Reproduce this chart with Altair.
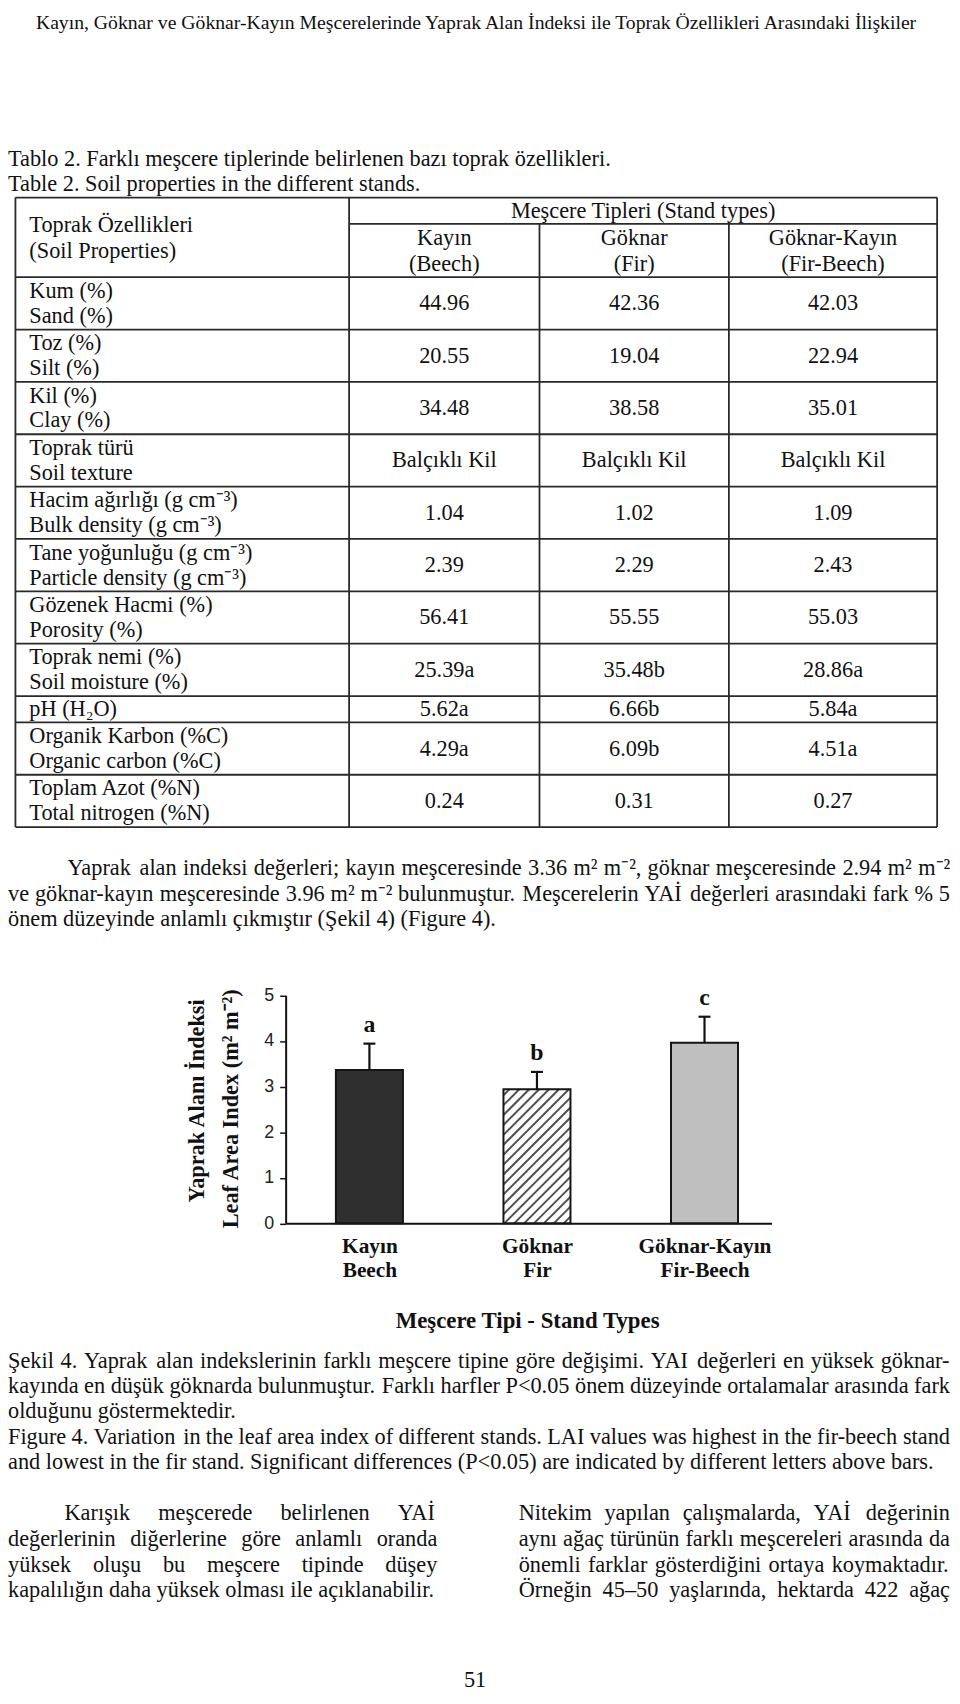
import json
import altair as alt
import pandas as pd

page_header = ("Kayın, Göknar ve Göknar-Kayın Meşcerelerinde Yaprak Alan İndeksi ile "
               "Toprak Özellikleri Arasındaki İlişkiler")

table_caption = [
    "Tablo 2. Farklı meşcere tiplerinde belirlenen bazı toprak özellikleri.",
    "Table 2. Soil properties in the different stands.",
]
table_group_title = "Meşcere Tipleri (Stand types)"
table_prop_title = ["Toprak Özellikleri", "(Soil Properties)"]

stand_tr = ["Kayın", "Göknar", "Göknar-Kayın"]
stand_en = ["Beech", "Fir", "Fir-Beech"]

prop_tr = ["Kum (%)", "Toz (%)", "Kil (%)", "Toprak türü",
           "Hacim ağırlığı (g cm⁻³)", "Tane yoğunluğu (g cm⁻³)", "Gözenek Hacmi (%)",
           "Toprak nemi (%)", "pH (H₂O)", "Organik Karbon (%C)", "Toplam Azot (%N)"]
prop_en = ["Sand (%)", "Silt (%)", "Clay (%)", "Soil texture",
           "Bulk density (g cm⁻³)", "Particle density (g cm⁻³)", "Porosity (%)",
           "Soil moisture (%)", "", "Organic carbon (%C)", "Total nitrogen (%N)"]
val_beech = ["44.96", "20.55", "34.48", "Balçıklı Kil", "1.04", "2.39", "56.41",
             "25.39a", "5.62a", "4.29a", "0.24"]
val_fir = ["42.36", "19.04", "38.58", "Balçıklı Kil", "1.02", "2.29", "55.55",
           "35.48b", "6.66b", "6.09b", "0.31"]
val_firbeech = ["42.03", "22.94", "35.01", "Balçıklı Kil", "1.09", "2.43", "55.03",
                "28.86a", "5.84a", "4.51a", "0.27"]

lai_mean = [3.36, 2.94, 3.96]
lai_err = [0.58, 0.38, 0.57]
lai_letter = ["a", "b", "c"]
lai_ticks = [0, 1, 2, 3, 4, 5]
y_title = ["Yaprak Alanı İndeksi", "Leaf Area Index (m² m⁻²)"]
x_title = "Meşcere Tipi - Stand Types"

para_lai = [
    "Yaprak alan indeksi değerleri; kayın meşceresinde 3.36 m² m⁻², göknar meşceresinde 2.94 m² m⁻²",
    "ve göknar-kayın meşceresinde 3.96 m² m⁻² bulunmuştur. Meşcerelerin YAİ değerleri arasındaki fark % 5",
    "önem düzeyinde anlamlı çıkmıştır (Şekil 4) (Figure 4).",
]
caption_fig = [
    "Şekil 4. Yaprak alan indekslerinin farklı meşcere tipine göre değişimi. YAI değerleri en yüksek göknar-",
    "kayında en düşük göknarda bulunmuştur. Farklı harfler P<0.05 önem düzeyinde ortalamalar arasında fark",
    "olduğunu göstermektedir.",
    "Figure 4. Variation in the leaf area index of different stands. LAI values was highest in the fir-beech stand",
    "and lowest in the fir stand. Significant differences (P<0.05) are indicated by different letters above bars.",
]
column_left = [
    "Karışık meşcerede belirlenen YAİ",
    "değerlerinin diğerlerine göre anlamlı oranda",
    "yüksek oluşu bu meşcere tipinde düşey",
    "kapalılığın daha yüksek olması ile açıklanabilir.",
]
column_right = [
    "Nitekim yapılan çalışmalarda, YAİ değerinin",
    "aynı ağaç türünün farklı meşcereleri arasında da",
    "önemli farklar gösterdiğini ortaya koymaktadır.",
    "Örneğin 45–50 yaşlarında, hektarda 422 ağaç",
]
page_number = "51"

# ---------------- styles / layout ----------------
SERIF = "Liberation Serif"
SANS = "Liberation Sans"
INK = "#111111"
FS = 22.5
W_C, H_C = 952, 1688          # canvas = page 8..960 x 8..1696

# Times metrics (Liberation Serif is metric compatible) for justification
TIMES = {' ': 250, '%': 833, '(': 333, ')': 333, ',': 250, '-': 333, '.': 250,
         ':': 278, ';': 278, '<': 564, '–': 500, '²': 300, '³': 300, '⁻': 350, '₂': 300}
for _d in "0123456789":
    TIMES[_d] = 500
TIMES.update(dict(A=722, B=667, C=667, D=722, E=611, F=556, G=722, H=722, I=333, J=389,
                  K=722, L=611, M=889, N=722, O=722, P=556, Q=722, R=667, S=556, T=611,
                  U=722, V=722, W=944, X=722, Y=722, Z=611))
TIMES.update(dict(a=444, b=500, c=444, d=500, e=444, f=333, g=500, h=500, i=278, j=278,
                  k=500, l=278, m=778, n=500, o=500, p=500, q=500, r=333, s=389, t=278,
                  u=500, v=500, w=722, x=500, y=500, z=444))
TIMES.update({'ı': 278, 'ş': 389, 'ç': 444, 'ğ': 500, 'ö': 500, 'ü': 500, 'İ': 333,
              'Ş': 556, 'Ç': 667, 'Ö': 722, 'Ü': 722, 'Ğ': 722})


def em(s):
    return sum(TIMES.get(ch, 500) for ch in s) / 1000.0


def line_items(line, x0, x1, y, justify):
    if not justify:
        return [dict(t=line, px=x0, py=y)]
    words = line.split(" ")
    widths = [em(w) * FS for w in words]
    gap = (x1 - x0 - sum(widths)) / (len(words) - 1)
    out, x = [], x0
    for w, wd in zip(words, widths):
        out.append(dict(t=w, px=x, py=y))
        x += wd + gap
    return out


left_items, center_items = [], []

# table captions
for k, s in enumerate(table_caption):
    left_items.append(dict(t=s, px=8, py=153 + 25.5 * k))

# table geometry
T_LEFT, T_RIGHT = 15.5, 945
T_COLS = [352, 544, 735]
T_TOP, T_SUB, T_HDR = 192, 218.5, 272.3
ROW_2, ROW_1 = 52.8, 26.6
row_edges = [T_HDR]
for en in prop_en:
    row_edges.append(row_edges[-1] + (ROW_1 if en == "" else ROW_2))
T_BOT = row_edges[-1]
col_edges = [T_COLS[0], T_COLS[1], T_COLS[2], T_RIGHT]
col_centers = [(col_edges[j] + col_edges[j + 1]) / 2 for j in range(3)]

rules = []
rules.append(dict(x1=T_LEFT, x2=T_RIGHT, y1=T_TOP, y2=T_TOP))
rules.append(dict(x1=T_COLS[0], x2=T_RIGHT, y1=T_SUB, y2=T_SUB))
for yy in row_edges:
    rules.append(dict(x1=T_LEFT, x2=T_RIGHT, y1=yy, y2=yy))
for xx in [T_LEFT, T_COLS[0], T_RIGHT]:
    rules.append(dict(x1=xx, x2=xx, y1=T_TOP, y2=T_BOT))
for xx in T_COLS[1:]:
    rules.append(dict(x1=xx, x2=xx, y1=T_SUB, y2=T_BOT))

TX = 29.5
left_items.append(dict(t=table_prop_title[0], px=TX, py=220))
left_items.append(dict(t=table_prop_title[1], px=TX, py=246))
center_items.append(dict(t=table_group_title, px=(T_COLS[0] + T_RIGHT) / 2, py=205.5))
for j in range(3):
    center_items.append(dict(t=stand_tr[j], px=col_centers[j], py=233))
    center_items.append(dict(t="(" + stand_en[j] + ")", px=col_centers[j], py=259))

for r in range(len(prop_tr)):
    c = (row_edges[r] + row_edges[r + 1]) / 2
    if prop_en[r]:
        left_items.append(dict(t=prop_tr[r], px=TX, py=c - 12.6))
        left_items.append(dict(t=prop_en[r], px=TX, py=c + 12.6))
    else:
        left_items.append(dict(t=prop_tr[r], px=TX, py=c))
    for j, vals in enumerate([val_beech, val_fir, val_firbeech]):
        center_items.append(dict(t=vals[r], px=col_centers[j], py=c))

# paragraph after table
for k, s in enumerate(para_lai):
    x0 = 68 if k == 0 else 8
    left_items += line_items(s, x0, 958, 868.3 + 25.9 * k, k < len(para_lai) - 1)

# figure caption
cap_just = [True, True, False, True, False]
for k, s in enumerate(caption_fig):
    left_items += line_items(s, 8, 958, 1365.5 + 25.4 * k, cap_just[k])

# two columns
for k, s in enumerate(column_left):
    x0 = 65 if k == 0 else 8
    left_items += line_items(s, x0, 441, 1518.5 + 26.1 * k, k < 3)
for k, s in enumerate(column_right):
    left_items += line_items(s, 523, 958, 1518.5 + 26.1 * k, True)

center_items.append(dict(t=page_number, px=479, py=1687))

hdr_size = 895 / em(page_header)
header_df = pd.DataFrame([dict(t=page_header, px=480, py=16)])

CX = alt.Scale(domain=[8, 8 + W_C], range=[0, W_C], nice=False, zero=False)
CY = alt.Scale(domain=[8, 8 + H_C], range=[0, H_C], nice=False, zero=False)


def cx(f):
    return alt.X(f"{f}:Q", scale=CX, axis=None)


def cy(f):
    return alt.Y(f"{f}:Q", scale=CY, axis=None)


def text_layer(df, **mk):
    return alt.Chart(df).mark_text(**mk).encode(x=cx("px"), y=cy("py"), text=alt.Text("t:N"))


canvas = alt.layer(
    text_layer(header_df, font=SERIF, fontSize=hdr_size, align="center", baseline="middle", color=INK),
    text_layer(pd.DataFrame(left_items), font=SERIF, fontSize=FS, align="left", baseline="middle", color=INK),
    text_layer(pd.DataFrame(center_items), font=SERIF, fontSize=FS, align="center", baseline="middle", color=INK),
    alt.Chart(pd.DataFrame(rules)).mark_rule(color="#2a2a2a", strokeWidth=1.8).encode(
        x=cx("x1"), x2=alt.X2("x2:Q"), y=cy("y1"), y2=alt.Y2("y2:Q")),
    text_layer(pd.DataFrame([dict(t=y_title[0], px=199, py=1103)]), font=SERIF, fontSize=22.5,
               fontWeight="bold", align="center", baseline="middle", angle=270, color=INK),
    text_layer(pd.DataFrame([dict(t=y_title[1], px=233, py=1111)]), font=SERIF, fontSize=22.5,
               fontWeight="bold", align="center", baseline="middle", angle=270, color=INK),
    text_layer(pd.DataFrame([dict(t=x_title, px=532, py=1325)]), font=SERIF, fontSize=23,
               fontWeight="bold", align="center", baseline="middle", color=INK),
)

# ---------------- bar chart (its own scales) ----------------
XD, XR = [0, 2.9], [280, 770]          # page x 288 .. 778
YD, YR = [0, 5], [1218.5, 988.5]       # page y 1226.5 .. 996.5
px_per_x = (XR[1] - XR[0]) / (XD[1] - XD[0])
px_per_y = (YR[0] - YR[1]) / (YD[1] - YD[0])
BAR_L, BAR_R = 0.3, 0.7
CAP = 6 / px_per_x
BAR_FILLS = ["#2f2f2f", "#ffffff", "#bfbfbf"]
HATCHED = [False, True, False]
HATCH_STEP = 10

bars = pd.DataFrame(dict(stand=stand_tr, mean=lai_mean, err=lai_err, letter=lai_letter))
bars["slot"] = range(len(stand_tr))
bars["x0"] = bars["slot"] + BAR_L
bars["x1"] = bars["slot"] + BAR_R
bars["xc"] = bars["slot"] + 0.5
bars["zero"] = 0.0
bars["top"] = bars["mean"] + bars["err"]
bars["c0"] = bars["xc"] - CAP
bars["c1"] = bars["xc"] + CAP

hatch = []
for i, h in enumerate(HATCHED):
    if not h:
        continue
    Wp = (BAR_R - BAR_L) * px_per_x
    Hp = lai_mean[i] * px_per_y
    c = -Hp + HATCH_STEP * 0.6
    while c < Wp:
        xs, ys = (c, 0.0) if c >= 0 else (0.0, -c)
        xe, ye = (c + Hp, Hp) if c + Hp <= Wp else (Wp, Wp - c)
        hatch.append(dict(hx0=i + BAR_L + xs / px_per_x, hx1=i + BAR_L + xe / px_per_x,
                          hy0=ys / px_per_y, hy1=ye / px_per_y))
        c += HATCH_STEP
hatch_df = pd.DataFrame(hatch)

labels_js = json.dumps([f"{a}|{b}" for a, b in zip(stand_tr, stand_en)], ensure_ascii=False)
XAX = alt.Axis(orient="bottom", offset=YR[0] - H_C, values=[0.5, 1.5, 2.5],
               labelExpr=f"split({labels_js}[floor(datum.value)], '|')",
               tickSize=0, domainColor="#111111", domainWidth=2, grid=False, title=None,
               labelFont=SERIF, labelFontWeight="bold", labelFontSize=21.5, labelLineHeight=25,
               labelPadding=12, labelColor=INK, labelFlush=False, labelOverlap=False, labelAngle=0)
YAX = alt.Axis(orient="left", offset=-XR[0], values=lai_ticks, tickSize=6, tickWidth=1.5,
               tickColor="#111111", domainColor="#111111", domainWidth=2, grid=False, title=None,
               labelFont=SANS, labelFontSize=18, labelPadding=6, labelColor="#222222",
               labelFlush=False)
XS = alt.Scale(domain=XD, range=XR, nice=False, zero=False)
YS = alt.Scale(domain=YD, range=YR, nice=False, zero=False)


def bx(f):
    return alt.X(f"{f}:Q", scale=XS, axis=XAX)


def by(f):
    return alt.Y(f"{f}:Q", scale=YS, axis=YAX)


fill_enc = alt.Color("stand:N", scale=alt.Scale(domain=stand_tr, range=BAR_FILLS), legend=None)
bar_base = alt.Chart(bars)
plot = alt.layer(
    bar_base.mark_rect().encode(x=bx("x0"), x2="x1:Q", y=by("zero"), y2="mean:Q", color=fill_enc),
    alt.Chart(hatch_df).mark_rule(color="#505050", strokeWidth=2).encode(
        x=bx("hx0"), x2="hx1:Q", y=by("hy0"), y2="hy1:Q"),
    bar_base.mark_rect(fill="transparent", stroke="#151515", strokeWidth=2).encode(
        x=bx("x0"), x2="x1:Q", y=by("zero"), y2="mean:Q"),
    bar_base.mark_rule(color="#111111", strokeWidth=2.2).encode(x=bx("xc"), y=by("mean"), y2="top:Q"),
    bar_base.mark_rule(color="#111111", strokeWidth=2.2).encode(x=bx("c0"), x2="c1:Q", y=by("top")),
    bar_base.mark_text(font=SERIF, fontSize=24, fontWeight="bold", baseline="alphabetic",
                       align="center", dy=-12, color=INK).encode(
        x=bx("xc"), y=by("top"), text="letter:N"),
)

chart = (
    alt.layer(canvas, plot)
    .resolve_scale(x="independent", y="independent")
    .properties(width=W_C, height=H_C, padding=0,
                autosize=alt.AutoSizeParams(type="none"), background="white")
    .configure_view(strokeWidth=0)
)

chart.save("out.html", embed_options={"renderer": "svg", "actions": False})
